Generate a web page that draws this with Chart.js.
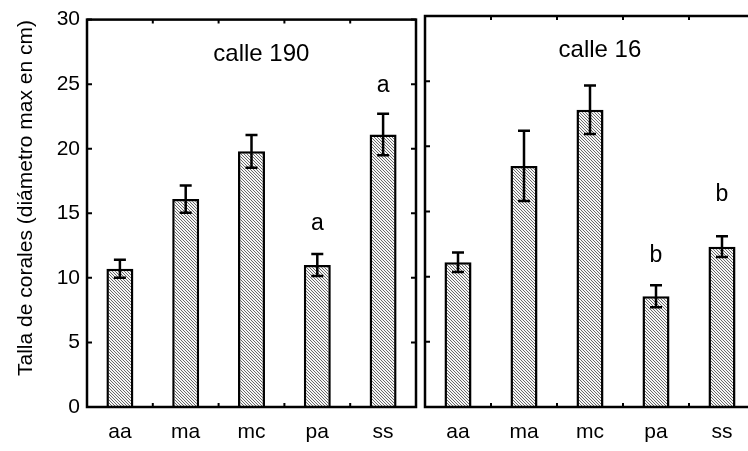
<!DOCTYPE html>
<html>
<head>
<meta charset="utf-8">
<script src="https://cdn.jsdelivr.net/npm/chart.js@4.4.1/dist/chart.umd.min.js"></script>
<style>
  html, body { margin: 0; padding: 0; background: #fff; overflow: hidden; }
  #wrap { position: relative; width: 748px; height: 451px; overflow: hidden; }
  #c190 { position: absolute; left: 0; top: 0; }
  #c16 { position: absolute; left: 416px; top: 0; }
</style>
</head>
<body>
<div id="wrap">
  <canvas id="c190" width="418" height="451"></canvas>
  <canvas id="c16" width="340" height="451"></canvas>
</div>
<script>
const categories = ['aa', 'ma', 'mc', 'pa', 'ss'];
const yTicks = [0, 5, 10, 15, 20, 25, 30];

// calle 190
const means190 = [10.7, 16.1, 19.8, 11.0, 21.1];
const err190 = [0.7, 1.05, 1.27, 0.85, 1.6];
const letters190 = ['', '', '', 'a', 'a'];
const letterY190 = [null, null, null, 13.7, 24.4];

// calle 16
const means16 = [11.1, 18.5, 22.8, 8.5, 12.3];
const err16 = [0.75, 2.7, 1.86, 0.84, 0.8];
const letters16 = ['', '', '', 'b', 'b'];
const letterY16 = [null, null, null, 11.1, 15.8];

const yTitle = 'Talla de corales (diámetro max en cm)';
const FONT = '"Liberation Sans", Arial, sans-serif';

function hatch() {
  const p = document.createElement('canvas');
  p.width = 3; p.height = 3;
  const g = p.getContext('2d');
  g.fillStyle = '#f6f6f6';
  g.fillRect(0, 0, 3, 3);
  g.fillStyle = '#6a6a6a';
  for (let i = 0; i < 3; i++) g.fillRect(i, i, 1, 1);
  return g.createPattern(p, 'repeat');
}

function makePanel(id, title, means, errs, letters, letterY, showY) {
  const ctx = document.getElementById(id);

  const panelDecor = {
    id: 'panelDecor',
    afterDatasetsDraw(chart) {
      const c = chart.ctx;
      const xs = chart.scales.x, ys = chart.scales.y;
      const a = chart.chartArea;
      c.save();
      c.strokeStyle = '#000';
      c.fillStyle = '#000';
      c.lineWidth = 2.5;

      // error bars
      means.forEach((m, i) => {
        const x = xs.getPixelForValue(i);
        const hi = ys.getPixelForValue(m + errs[i]);
        const lo = ys.getPixelForValue(m - errs[i]);
        c.beginPath();
        c.moveTo(x, hi); c.lineTo(x, lo);
        c.moveTo(x - 6, hi); c.lineTo(x + 6, hi);
        c.moveTo(x - 6, lo); c.lineTo(x + 6, lo);
        c.stroke();
      });

      // frame
      c.strokeRect(a.left, a.top, a.right - a.left, a.bottom - a.top);

      // inner ticks
      c.lineWidth = 2;
      c.beginPath();
      yTicks.forEach(v => {
        const y = ys.getPixelForValue(v);
        c.moveTo(a.left, y); c.lineTo(a.left + 5, y);
        c.moveTo(a.right, y); c.lineTo(a.right - 5, y);
      });
      for (let i = 0; i < categories.length - 1; i++) {
        const x = (xs.getPixelForValue(i) + xs.getPixelForValue(i + 1)) / 2;
        c.moveTo(x, a.bottom); c.lineTo(x, a.bottom - 4);
        c.moveTo(x, a.top); c.lineTo(x, a.top + 4);
      }
      c.stroke();

      // significance letters
      c.font = '23px ' + FONT;
      c.textAlign = 'center';
      c.textBaseline = 'alphabetic';
      letters.forEach((t, i) => {
        if (!t) return;
        c.fillText(t, xs.getPixelForValue(i), ys.getPixelForValue(letterY[i]));
      });

      // panel title
      c.font = '24px ' + FONT;
      c.fillText(title, xs.getPixelForValue(2.15), a.top + 41);

      // y axis title
      if (showY) {
        c.translate(26, 198);
        c.rotate(-Math.PI / 2);
        c.textBaseline = 'middle';
        c.font = '21px ' + FONT;
        c.fillText(yTitle, 0, 0);
      }
      c.restore();
    }
  };

  return new Chart(ctx, {
    type: 'bar',
    data: {
      labels: categories,
      datasets: [{
        data: means,
        backgroundColor: hatch(),
        borderColor: '#000',
        borderWidth: 2.5,
        barPercentage: 0.41,
        categoryPercentage: 1
      }]
    },
    options: {
      responsive: false,
      animation: false,
      layout: { padding: { left: 0, right: showY ? 2 : 1, top: 16, bottom: 0 } },
      plugins: { legend: { display: false }, tooltip: { enabled: false } },
      scales: {
        x: {
          grid: { display: false },
          border: { display: false },
          ticks: { color: '#000', font: { family: FONT, size: 21 }, padding: 5 },
          afterFit(s) { s.height = 44; }
        },
        y: {
          min: 0, max: 30,
          grid: { display: false, drawTicks: false },
          border: { display: false },
          ticks: {
            display: showY, stepSize: 5, color: '#000',
            font: { family: FONT, size: 21 }, padding: 7
          },
          afterFit(s) { s.width = showY ? 87 : 9; }
        }
      }
    },
    plugins: [panelDecor]
  });
}

makePanel('c190', 'calle 190', means190, err190, letters190, letterY190, true);
makePanel('c16', 'calle 16', means16, err16, letters16, letterY16, false);
</script>
</body>
</html>
